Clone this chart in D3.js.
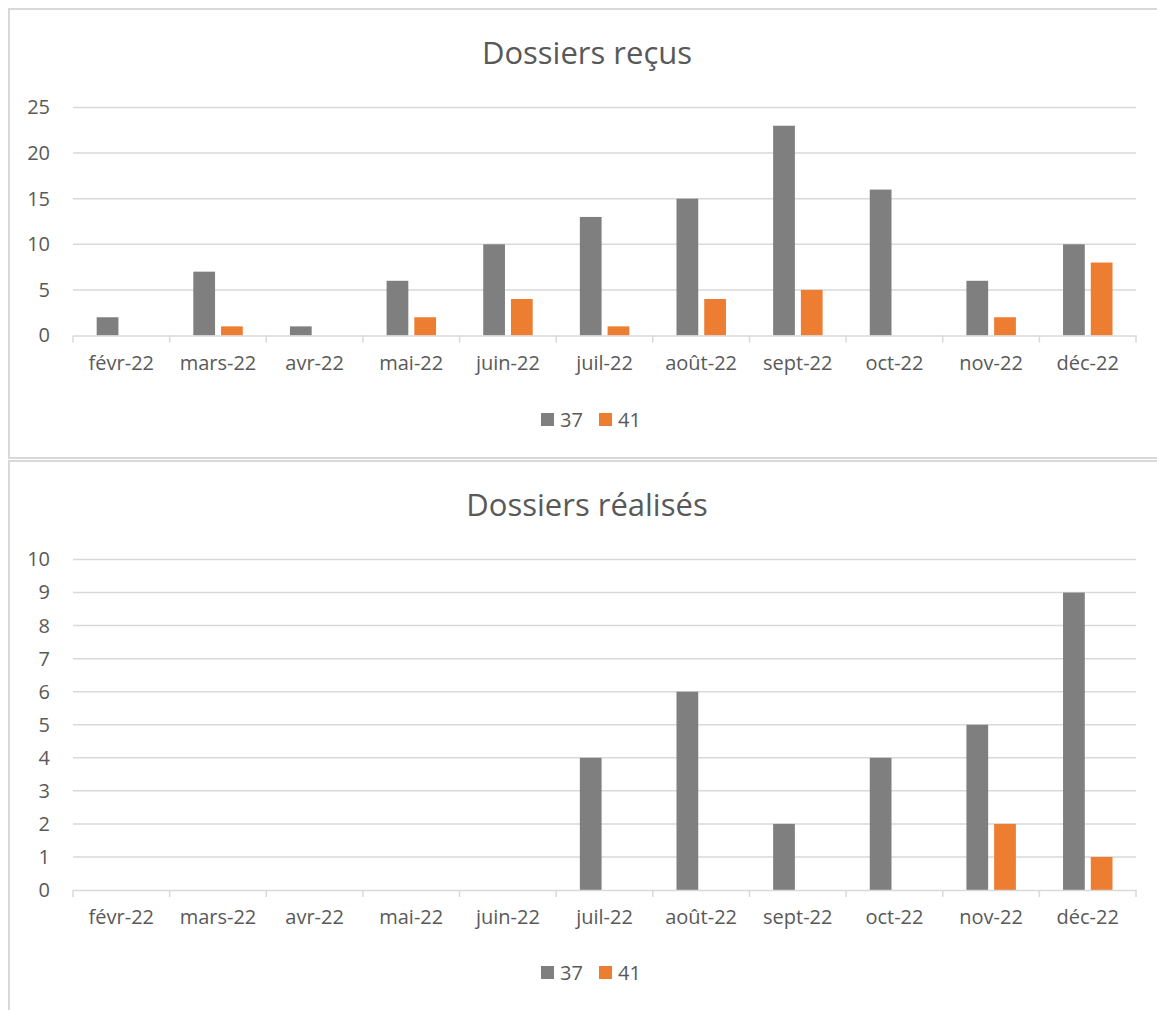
<!DOCTYPE html>
<html><head><meta charset="utf-8">
<script src="https://cdn.jsdelivr.net/npm/d3@7"></script>
<style>
body{margin:0;background:#fff;}
svg{display:block;font-family:"Open Sans",sans-serif;}
</style></head>
<body><svg id="c" width="1157" height="1010"></svg>
<script>
const categories = ["févr-22","mars-22","avr-22","mai-22","juin-22","juil-22","août-22","sept-22","oct-22","nov-22","déc-22"];
const seriesNames = ["37","41"];
const recus37 = [2,7,1,6,10,13,15,23,16,6,10];
const recus41 = [0,1,0,2,4,1,4,5,0,2,8];
const realises37 = [0,0,0,0,0,4,6,2,4,5,9];
const realises41 = [0,0,0,0,0,0,0,0,0,2,1];
const recusTicks = [0,5,10,15,20,25];
const realisesTicks = [0,1,2,3,4,5,6,7,8,9,10];
const colors = ["#7f7f7f","#ed7d31"];
const textColor = "#595959";
const gridColor = "#d9d9d9";

const svg = d3.select("#c");

function drawChart(cfg){
  const g = svg.append("g");
  g.append("rect").attr("x",cfg.box[0]).attr("y",cfg.box[1]).attr("width",cfg.box[2]).attr("height",cfg.box[3])
    .attr("fill","#fff").attr("stroke",gridColor).attr("stroke-width",2);
  g.append("text").attr("x",587).attr("y",cfg.titleY).attr("text-anchor","middle")
    .attr("font-size",31).attr("fill",textColor).text(cfg.title);
  const x = d3.scaleBand().domain(categories).range([73,1136]).paddingInner(0).paddingOuter(0);
  const y = d3.scaleLinear().domain([0,cfg.max]).range([cfg.y0,cfg.yTop]);
  g.append("g").selectAll("line").data(cfg.ticks.filter(t=>t>0)).join("line")
    .attr("x1",73).attr("x2",1136).attr("y1",d=>y(d)).attr("y2",d=>y(d))
    .attr("stroke",gridColor).attr("stroke-width",1.5);
  const ya = g.append("g").attr("transform","translate(73,0)")
    .call(d3.axisLeft(y).tickValues(cfg.ticks).tickSize(0).tickPadding(23).tickFormat(d3.format("d")));
  ya.select(".domain").remove();
  ya.selectAll("text").attr("font-size",20).attr("fill",textColor).attr("font-family","'Open Sans',sans-serif");
  const bw = x.bandwidth();
  const data = [cfg.s1, cfg.s2];
  data.forEach((arr,si)=>{
    g.append("g").selectAll("rect").data(arr.map((v,i)=>({v,c:categories[i]}))).join("rect")
      .attr("x",d=>x(d.c)+bw*0.245+si*bw*0.287)
      .attr("width",bw*0.225)
      .attr("y",d=>y(d.v))
      .attr("height",d=>y(0)-y(d.v))
      .attr("fill",colors[si]);
  });
  const xa = g.append("g").attr("transform",`translate(0,${cfg.y0})`)
    .call(d3.axisBottom(x).tickSize(0).tickPadding(20));
  xa.select(".domain").attr("stroke",gridColor).attr("stroke-width",1.5);
  xa.selectAll("text").attr("font-size",20).attr("fill",textColor).attr("font-family","'Open Sans',sans-serif");
  const bounds = categories.map(c=>x(c)).concat([x(categories[categories.length-1])+bw]);
  g.append("g").selectAll("line").data(bounds).join("line")
    .attr("x1",d=>d).attr("x2",d=>d).attr("y1",cfg.y0).attr("y2",cfg.y0+7)
    .attr("stroke",gridColor).attr("stroke-width",1.5);
  const lg = g.append("g").attr("transform",`translate(0,${cfg.legendY})`);
  const lx = [541, 599];
  seriesNames.forEach((n,i)=>{
    lg.append("rect").attr("x",lx[i]).attr("y",-7).attr("width",13).attr("height",13).attr("fill",colors[i]);
    lg.append("text").attr("x",lx[i]+19).attr("y",7).attr("font-size",20).attr("fill",textColor).text(n);
  });
}

drawChart({box:[9,9,1160,449], title:"Dossiers reçus", titleY:64, s1:recus37, s2:recus41,
  max:25, ticks:recusTicks, y0:335.5, yTop:107.5, legendY:420});
drawChart({box:[9,461,1160,560], title:"Dossiers réalisés", titleY:516, s1:realises37, s2:realises41,
  max:10, ticks:realisesTicks, y0:890, yTop:559.5, legendY:973});
</script></body></html>
